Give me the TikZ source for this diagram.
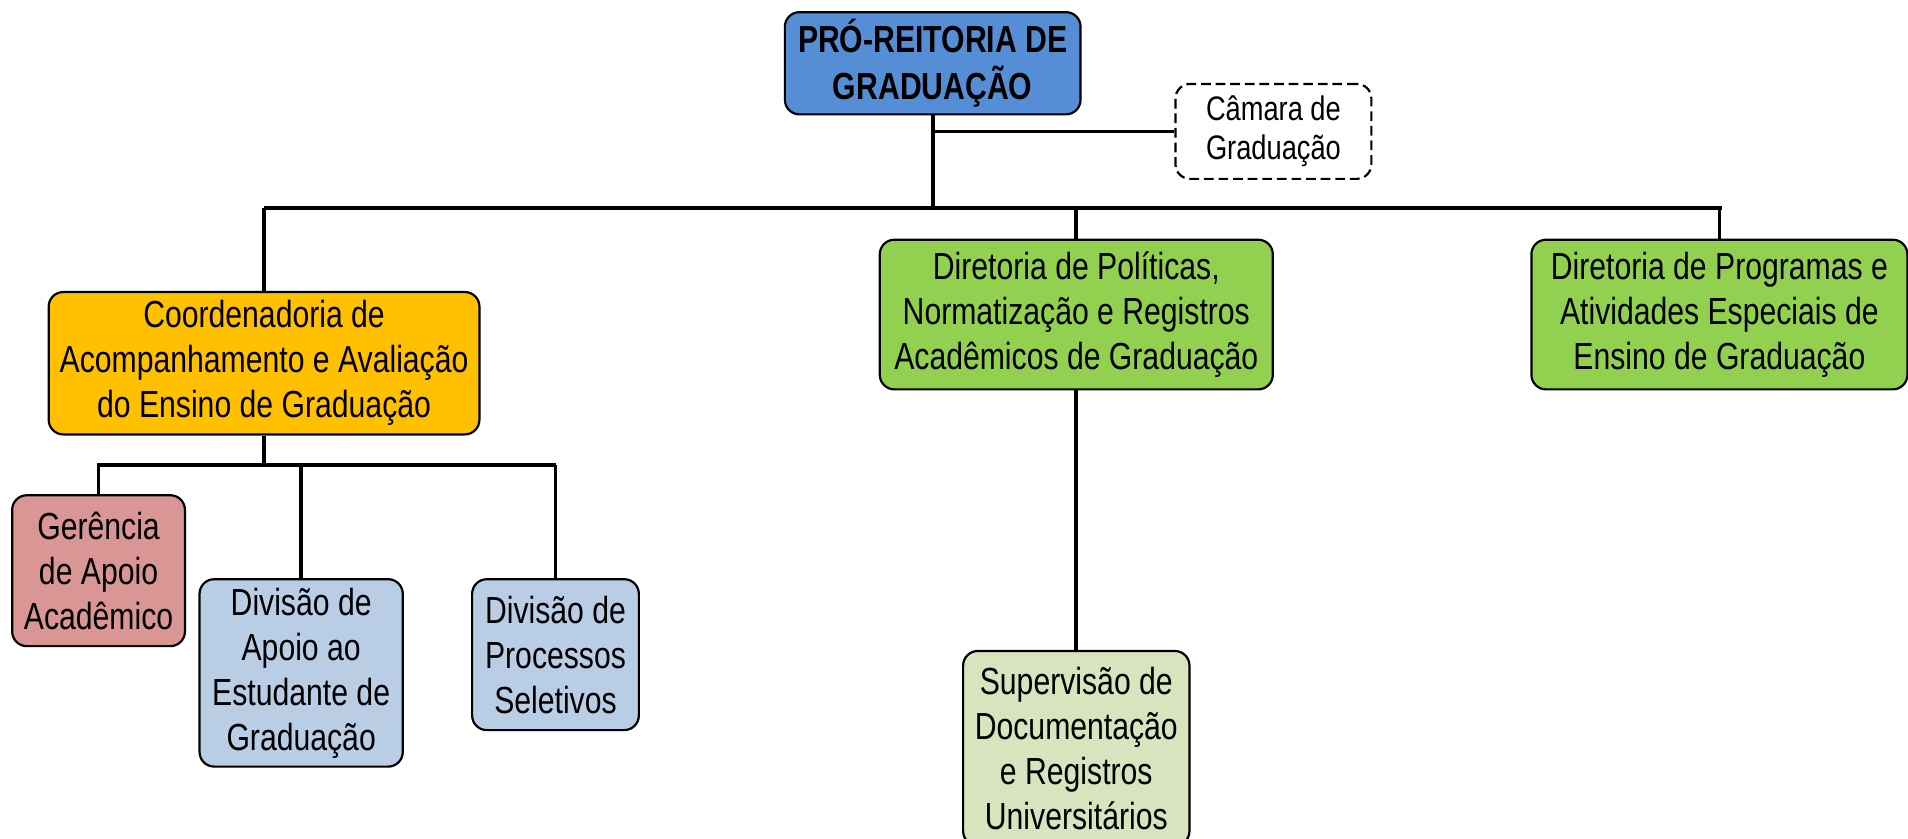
\documentclass[tikz,border=0pt]{standalone}
\usepackage{fontspec}
\setmainfont[FakeStretch=0.8]{Liberation Sans}
\definecolor{topblue}{HTML}{558ED5}
\definecolor{orangebox}{HTML}{FFC000}
\definecolor{greenbox}{HTML}{92D050}
\definecolor{pinkbox}{HTML}{D99694}
\definecolor{bluebox}{HTML}{B9CDE5}
\definecolor{palegreen}{HTML}{D7E4BD}
\begin{document}
\begin{tikzpicture}[x=0.5pt,y=-0.5pt,
  box/.style={draw, rounded corners=6pt, line width=0.9pt, align=center, inner sep=0pt,
    font=\fontsize{15.5pt}{18.5pt}\selectfont},
  conn/.style={line width=1.5pt}]
\useasboundingbox (0,0) rectangle (1568,689);
\clip (0,0) rectangle (1568,689);
\node[box, fill=topblue, minimum width=121.5pt, minimum height=42pt,
  font=\fontsize{15.5pt}{19.5pt}\selectfont\bfseries] (pro) at (766.5,52) {PRÓ-REITORIA DE\\GRADUAÇÃO};
\node[box, dash pattern=on 4pt off 2pt, fill=white, minimum width=80.5pt, minimum height=39pt,
  font=\fontsize{14pt}{16pt}\selectfont] (cam) at (1046.5,108) {Câmara de\\Graduação};
\node[box, fill=orangebox, minimum width=177pt, minimum height=58.5pt] (coord) at (217,298.5)
  {Coordenadoria de\\Acompanhamento e Avaliação\\do Ensino de Graduação};
\node[box, fill=greenbox, minimum width=161.5pt, minimum height=61.5pt] (dirpol) at (884.5,258.5)
  {Diretoria de Políticas,\\Normatização e Registros\\Acadêmicos de Graduação};
\node[box, fill=greenbox, minimum width=154.5pt, minimum height=61.5pt] (dirprog) at (1413,258.5)
  {Diretoria de Programas e\\Atividades Especiais de\\Ensino de Graduação};
\node[box, fill=palegreen, minimum width=93pt, minimum height=80pt] (sup) at (884.5,615)
  {Supervisão de\\Documentação\\e Registros\\Universitários};
\node[box, fill=pinkbox, minimum width=71pt, minimum height=62pt] (ger) at (81,469)
  {Gerência\\de Apoio\\Acadêmico};
\node[box, fill=bluebox, minimum width=83.5pt, minimum height=77pt] (divap) at (247.5,553)
  {Divisão de\\Apoio ao\\Estudante de\\Graduação};
\node[box, fill=bluebox, minimum width=68.5pt, minimum height=62pt] (divproc) at (456.5,538)
  {Divisão de\\Processos\\Seletivos};
\coordinate (busL) at (217,171);
\coordinate (busR) at (1415,171);
\coordinate (bus2L) at (80,382);
\coordinate (bus2R) at (457,382);
\draw[conn] (pro.south) -- (pro.south |- busL);
\draw[conn] (pro.south |- cam.west) -- (cam.west);
\draw[conn] (busL) -- (busR);
\draw[conn] (busL) -- (coord.north);
\draw[conn] (dirpol.north |- busL) -- (dirpol.north);
\draw[conn] (dirprog.north |- busL) -- (dirprog.north);
\draw[conn] (dirpol.south) -- (sup.north);
\draw[conn] (coord.south) -- (coord.south |- bus2L);
\draw[conn] (bus2L) -- (bus2R);
\draw[conn] (ger.north |- bus2L) -- (ger.north);
\draw[conn] (divap.north |- bus2L) -- (divap.north);
\draw[conn] (divproc.north |- bus2L) -- (divproc.north);
\end{tikzpicture}
\end{document}
